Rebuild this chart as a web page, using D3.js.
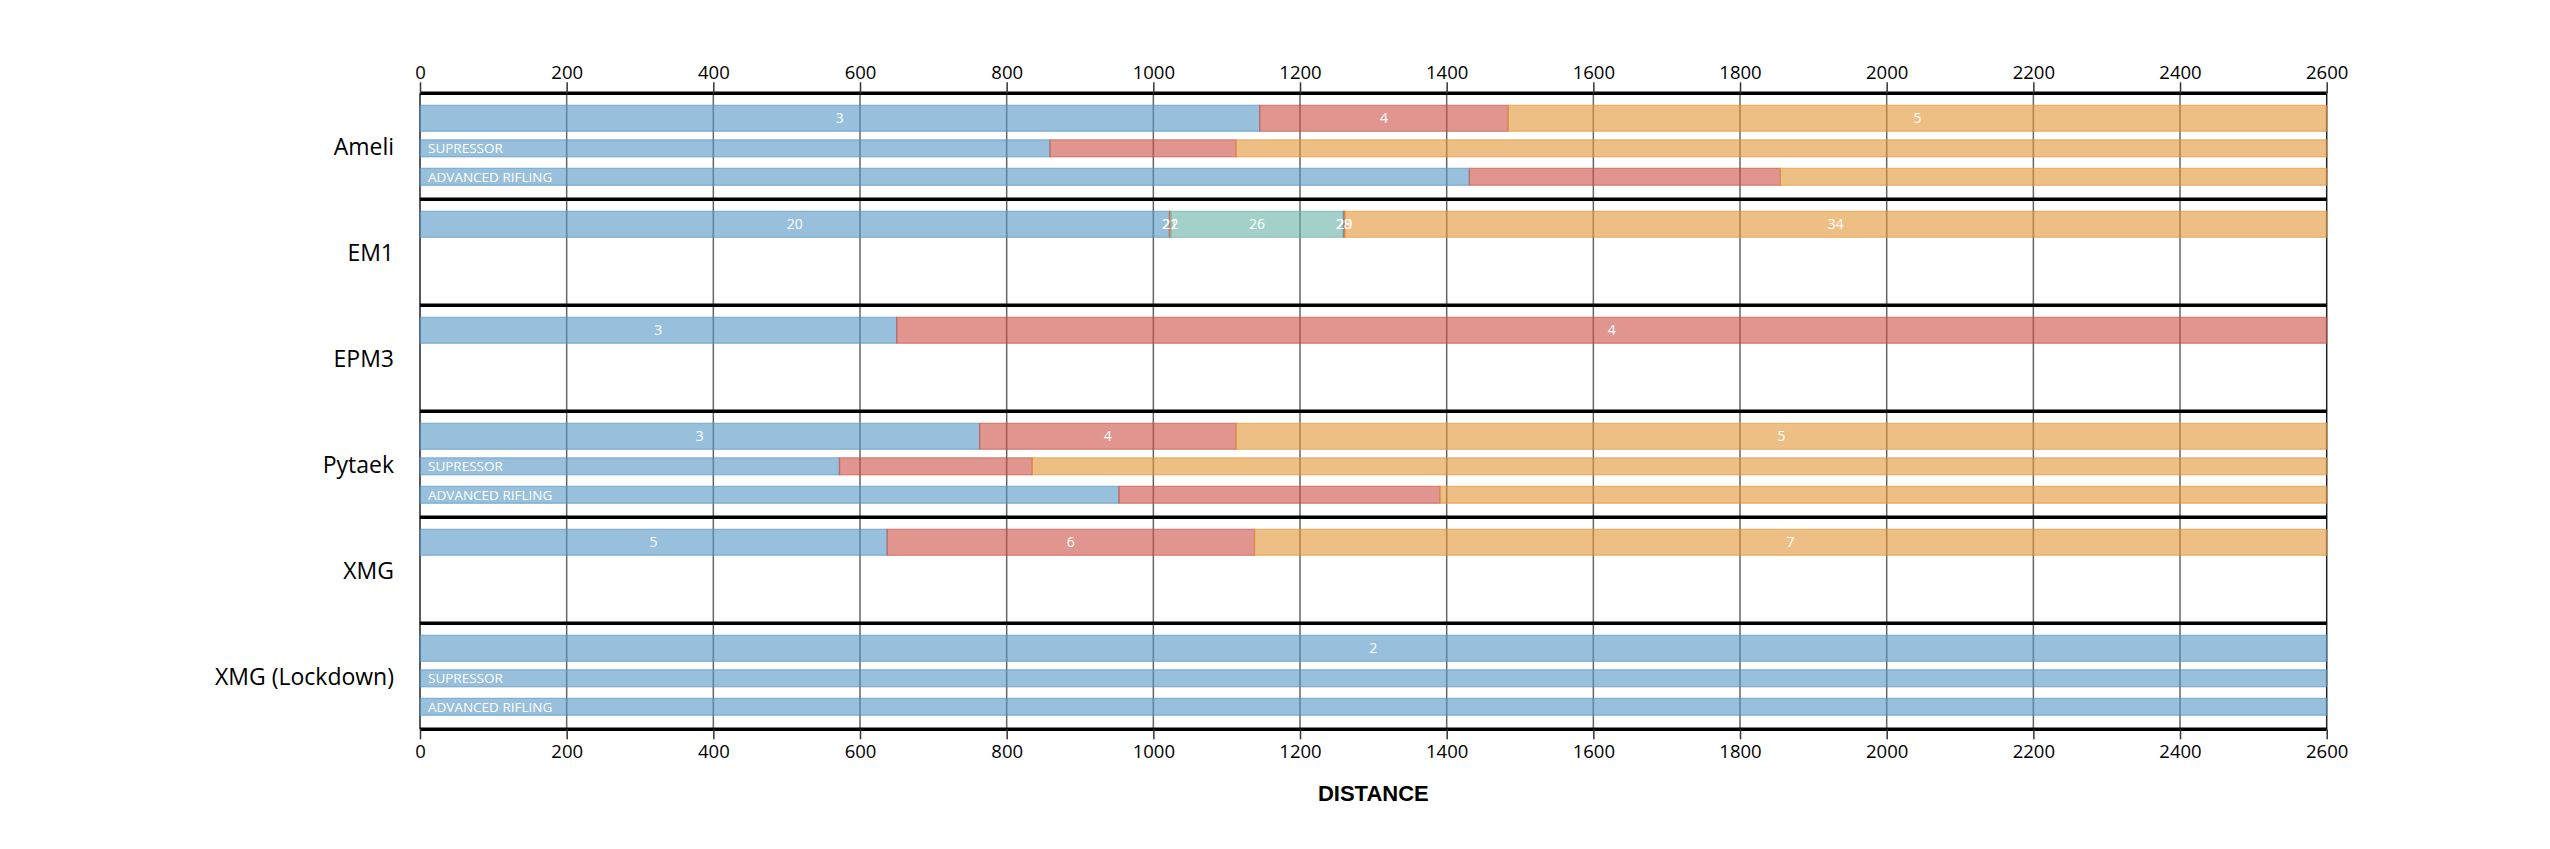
<!DOCTYPE html>
<html>
<head>
<meta charset="utf-8">
<script src="https://cdnjs.cloudflare.com/ajax/libs/d3/7.8.5/d3.min.js"></script>
<style>
  body { margin: 0; background: #fff; }
  svg text { font-family: "Open Sans", sans-serif; }
</style>
</head>
<body>
<script>
// weapons and the damage tiers ("shots")
var weapons = ["Ameli", "EM1", "EPM3", "Pytaek", "XMG", "XMG (Lockdown)"];
var shots = [[3, 4, 5], [20, 21, 22, 26, 28, 29, 34], [3, 4], [3, 4, 5], [5, 6, 7], [2]];
// where each tier ends, per row (base / supressor / advanced rifling)
var baseEnds = [[1145, 1484, 2600], [1022, 1023, 1024, 1259, 1260, 1261, 2600], [650, 2600], [763, 1113, 2600], [637, 1138, 2600], [2600]];
var supEnds = [[859, 1113, 2600], null, null, [572, 835, 2600], null, [2600]];
var rifEnds = [[1431, 1855, 2600], null, null, [953, 1391, 2600], null, [2600]];
var rowNames = ["", "SUPRESSOR", "ADVANCED RIFLING"];
var tickValues = [0, 200, 400, 600, 800, 1000, 1200, 1400, 1600, 1800, 2000, 2200, 2400, 2600];

var wid = 2550, hei = 849;
var palette = ["#5394c3", "#cb4e44", "#e19434", "#66b2a5"];

var svg = d3.select("body").append("svg")
  .attr("width", wid)
  .attr("height", hei);

var x = d3.scaleLinear().domain([0, 2600]).range([420, 2326.7]);
var y = d3.scaleBand().domain(weapons).range([93.3, 729.3]);

// inner row layout of a group
var rowTop = [12, 46.5, 75], rowH = [26, 17, 17];

// gridlines
svg.append("g").selectAll("line")
  .data(tickValues)
  .enter().append("line")
  .attr("x1", d => x(d)).attr("x2", d => x(d))
  .attr("y1", y.range()[0]).attr("y2", y.range()[1])
  .attr("stroke", d => (d === 0 || d === 2600) ? "#222" : "#666")
  .attr("stroke-width", 1.5);

// build segments
var segs = [];
weapons.forEach(function (w, wi) {
  [baseEnds[wi], supEnds[wi], rifEnds[wi]].forEach(function (ends, ri) {
    if (!ends) return;
    var start = 0;
    ends.forEach(function (end, si) {
      segs.push({ w: w, row: ri, i: si, x0: start, x1: end, label: ri === 0 ? shots[wi][si] : null });
      start = end;
    });
  });
});

var bars = svg.append("g");
bars.selectAll("rect")
  .data(segs)
  .enter().append("rect")
  .attr("x", d => x(d.x0))
  .attr("width", d => x(d.x1) - x(d.x0))
  .attr("y", d => y(d.w) + rowTop[d.row])
  .attr("height", d => rowH[d.row])
  .attr("fill", d => palette[d.i % 4])
  .attr("fill-opacity", 0.6)
  .attr("stroke", d => palette[d.i % 4])
  .attr("stroke-opacity", 0.55)
  .attr("stroke-width", 1.3);

// separator lines between groups
var seps = weapons.map(d => y(d)).concat([y.range()[1]]);
svg.append("g").selectAll("line")
  .data(seps)
  .enter().append("line")
  .attr("x1", x(0)).attr("x2", x(2600))
  .attr("y1", d => d).attr("y2", d => d)
  .attr("stroke", "#000")
  .attr("stroke-width", 3.5);

// axes
var axisT = svg.append("g")
  .attr("transform", "translate(0," + y.range()[0] + ")")
  .call(d3.axisTop(x).tickValues(tickValues).tickFormat(d3.format("d")).tickSize(11).tickPadding(3));
var axisB = svg.append("g")
  .attr("transform", "translate(0," + y.range()[1] + ")")
  .call(d3.axisBottom(x).tickValues(tickValues).tickFormat(d3.format("d")).tickSize(10).tickPadding(6));
[axisT, axisB].forEach(function (g) {
  g.select(".domain").remove();
  g.selectAll(".tick line").attr("stroke", "#333").attr("stroke-width", 1.5);
  g.selectAll(".tick text")
    .style("font-family", "'Open Sans', sans-serif")
    .style("font-size", "18.5px")
    .attr("fill", "#000");
});

// value labels
svg.append("g").selectAll("text")
  .data(segs.filter(d => d.label !== null))
  .enter().append("text")
  .attr("x", d => x((d.x0 + d.x1) / 2))
  .attr("y", d => y(d.w) + rowTop[0] + rowH[0] / 2)
  .attr("dy", "0.36em")
  .attr("text-anchor", "middle")
  .attr("fill", "#fff")
  .style("font-size", "14px")
  .text(d => d.label);

// row labels
var rowLabels = [];
weapons.forEach(function (w, wi) {
  if (supEnds[wi]) rowLabels.push({ w: w, row: 1 });
  if (rifEnds[wi]) rowLabels.push({ w: w, row: 2 });
});
svg.append("g").selectAll("text")
  .data(rowLabels)
  .enter().append("text")
  .attr("x", x(0) + 8)
  .attr("y", d => y(d.w) + rowTop[d.row] + rowH[d.row] / 2)
  .attr("dy", "0.36em")
  .attr("fill", "#fff")
  .style("font-size", "13.5px")
  .text(d => rowNames[d.row]);

// weapon names
svg.append("g").selectAll("text")
  .data(weapons)
  .enter().append("text")
  .attr("x", 394)
  .attr("y", d => y(d) + y.bandwidth() / 2)
  .attr("dy", "0.36em")
  .attr("text-anchor", "end")
  .attr("fill", "#000")
  .style("font-size", "23px")
  .text(d => d);

// axis title
svg.append("text")
  .attr("x", (x.range()[0] + x.range()[1]) / 2)
  .attr("y", 801)
  .attr("text-anchor", "middle")
  .style("font-family", "'Liberation Sans', Arial, sans-serif")
  .style("font-weight", "bold")
  .style("font-size", "22px")
  .text("DISTANCE");
</script>
</body>
</html>
